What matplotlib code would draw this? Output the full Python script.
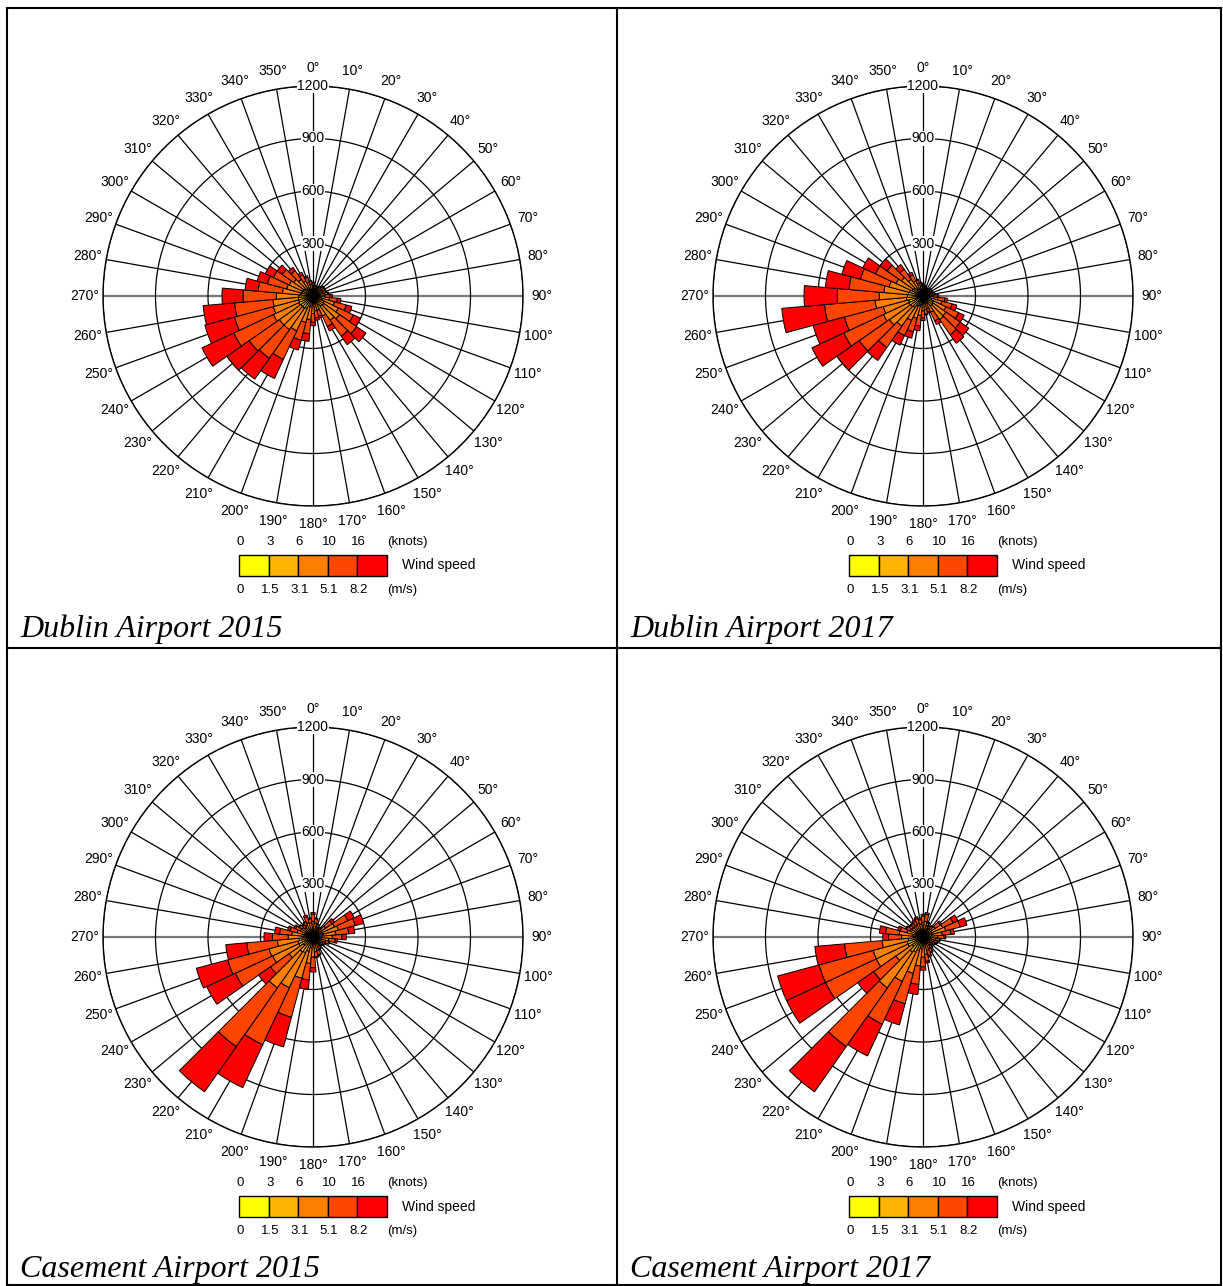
import numpy as np
import matplotlib.pyplot as plt
from matplotlib.patches import Rectangle

# Wind direction sectors (degrees) and speed classes
directions = list(range(0, 360, 10))
speed_colors = ['#ffff00', '#ffb400', '#ff8000', '#ff4600', '#ff0000']
knots_labels = ['0', '3', '6', '10', '16']
ms_labels = ['0', '1.5', '3.1', '5.1', '8.2']
ring_values = [300, 600, 900, 1200]

# Dublin Airport 2015 (hours per sector, per speed class)
dub15_c1 = [8, 6, 6, 6, 7, 8, 8, 8, 9, 8, 10, 12, 15, 15, 15, 12, 10, 10,
            10, 12, 12, 15, 15, 15, 15, 15, 15, 15, 15, 15, 15, 15, 12, 10, 10, 9]
dub15_c2 = [24, 18, 18, 18, 21, 24, 24, 24, 27, 25, 35, 45, 55, 60, 55, 45, 30, 30,
            35, 45, 50, 65, 70, 70, 75, 70, 70, 65, 55, 50, 50, 45, 40, 35, 30, 27]
dub15_c3 = [28, 21, 21, 21, 25, 28, 28, 28, 31, 35, 50, 70, 90, 110, 100, 70, 45, 45,
            55, 80, 95, 140, 150, 150, 160, 150, 145, 130, 105, 90, 85, 75, 65, 50, 40, 31]
dub15_c4 = [16, 12, 12, 12, 14, 16, 16, 16, 18, 30, 45, 70, 95, 120, 110, 65, 35, 40,
            50, 80, 105, 180, 200, 210, 250, 230, 220, 190, 140, 115, 100, 80, 60, 40, 30, 18]
dub15_c5 = [4, 3, 3, 3, 3, 4, 4, 4, 5, 12, 20, 33, 45, 65, 60, 28, 10, 15,
            20, 43, 58, 120, 145, 155, 200, 175, 180, 120, 75, 60, 50, 35, 23, 15, 10, 5]

# Dublin Airport 2017
dub17_c1 = [7, 6, 5, 5, 5, 6, 6, 6, 7, 8, 10, 12, 15, 15, 15, 12, 10, 10,
            10, 12, 12, 15, 15, 15, 15, 15, 15, 15, 15, 15, 15, 15, 12, 10, 10, 8]
dub17_c2 = [21, 18, 15, 15, 15, 18, 18, 18, 21, 22, 30, 40, 50, 55, 55, 35, 30, 30,
            30, 40, 45, 50, 65, 70, 75, 70, 80, 75, 70, 65, 55, 50, 40, 35, 30, 24]
dub17_c3 = [25, 21, 18, 18, 18, 21, 21, 21, 25, 30, 45, 60, 80, 90, 95, 55, 35, 40,
            45, 60, 75, 90, 130, 150, 160, 150, 180, 160, 140, 120, 100, 85, 65, 50, 35, 28]
dub17_c4 = [14, 12, 10, 10, 10, 12, 12, 12, 14, 22, 40, 60, 80, 100, 105, 55, 20, 25,
            40, 60, 80, 95, 150, 210, 250, 230, 290, 240, 200, 170, 130, 100, 70, 40, 20, 16]
dub17_c5 = [3, 3, 2, 2, 2, 3, 3, 3, 3, 8, 15, 28, 35, 60, 60, 23, 5, 5,
            15, 28, 38, 60, 90, 155, 200, 185, 245, 190, 135, 110, 80, 50, 33, 15, 5, 4]

# Casement Airport 2015
cas15_c1 = [10, 10, 8, 6, 7, 8, 10, 10, 10, 10, 10, 10, 8, 7, 6, 8, 10, 10,
            10, 12, 15, 15, 15, 12, 15, 15, 15, 12, 12, 10, 10, 10, 9, 10, 10, 10]
cas15_c2 = [30, 30, 24, 18, 21, 30, 45, 50, 45, 40, 35, 30, 24, 21, 18, 24, 30, 30,
            40, 50, 70, 85, 90, 55, 75, 75, 65, 45, 40, 35, 30, 30, 27, 30, 30, 30]
cas15_c3 = [50, 40, 28, 21, 25, 50, 80, 90, 75, 60, 45, 35, 28, 25, 21, 28, 40, 45,
            65, 90, 160, 220, 250, 100, 165, 170, 125, 85, 70, 50, 40, 35, 31, 35, 45, 40]
cas15_c4 = [40, 25, 16, 12, 14, 45, 85, 100, 75, 55, 38, 20, 16, 14, 12, 16, 25, 30,
            60, 95, 230, 360, 410, 130, 235, 245, 175, 90, 70, 40, 30, 20, 18, 20, 35, 25]
cas15_c5 = [10, 5, 4, 3, 3, 17, 40, 50, 35, 25, 12, 5, 4, 3, 3, 4, 5, 5,
            25, 53, 175, 270, 315, 83, 180, 185, 120, 48, 28, 15, 10, 5, 5, 5, 10, 5]

# Casement Airport 2017
cas17_c1 = [10, 10, 9, 7, 8, 10, 10, 10, 10, 10, 10, 9, 8, 7, 8, 10, 10, 10,
            10, 12, 15, 15, 15, 15, 15, 15, 15, 12, 12, 10, 10, 10, 10, 10, 10, 10]
cas17_c2 = [30, 30, 27, 21, 24, 30, 45, 45, 40, 30, 30, 27, 24, 21, 24, 30, 30, 35,
            40, 55, 65, 80, 90, 60, 80, 80, 70, 40, 45, 35, 30, 30, 30, 30, 30, 30]
cas17_c3 = [45, 50, 31, 25, 28, 45, 70, 80, 60, 45, 35, 31, 28, 25, 28, 35, 40, 55,
            65, 100, 135, 185, 250, 115, 200, 200, 150, 70, 80, 50, 40, 35, 35, 35, 40, 35]
cas17_c4 = [35, 40, 18, 14, 16, 35, 65, 85, 50, 35, 20, 18, 16, 14, 16, 20, 30, 40,
            55, 105, 180, 270, 410, 155, 320, 320, 215, 75, 78, 40, 25, 20, 20, 25, 30, 25]
cas17_c5 = [10, 10, 5, 3, 4, 10, 30, 40, 20, 10, 5, 5, 4, 3, 4, 5, 10, 10,
            20, 58, 125, 200, 315, 110, 245, 245, 170, 33, 35, 15, 5, 5, 5, 10, 10, 10]

W, H = 1223, 1286
fig = plt.figure(figsize=(W / 100, H / 100), dpi=100)

# overlay in pixel coordinates for table borders, legends and captions
over = fig.add_axes([0, 0, 1, 1])
over.set_xlim(0, W)
over.set_ylim(H, 0)
over.axis('off')

for xs, ys in [([7, 1221], [8, 8]), ([7, 1221], [1285, 1285]), ([7, 7], [8, 1285]),
               ([1221, 1221], [8, 1285]), ([617, 617], [8, 1285]), ([7, 1221], [648, 648])]:
    over.plot(xs, ys, color='black', lw=1.5)

sans = 'Liberation Sans'


def crear_rosa(cx, cy, clases, titulo):
    R = 210
    ax = fig.add_axes([(cx - R) / W, 1 - (cy + R) / H, 2 * R / W, 2 * R / H],
                      projection='polar')
    ax.set_theta_zero_location('N')
    ax.set_theta_direction(-1)
    theta = np.deg2rad(directions)
    base = np.zeros(len(directions))
    for vals, col in zip(clases, speed_colors):
        ax.bar(theta, vals, width=np.deg2rad(10), bottom=base, color=col,
               edgecolor='black', linewidth=0.7, zorder=3)
        base = base + np.array(vals)
    ax.set_ylim(0, 1200)
    ax.set_yticks(ring_values)
    ax.set_yticklabels([])
    ax.set_xticks(theta)
    ax.set_xticklabels([])
    ax.set_axisbelow(True)
    ax.grid(color='black', linewidth=0.9)
    gl = ax.xaxis.get_gridlines()
    for i in (9, 27):
        gl[i].set_color('#777777')
        gl[i].set_linewidth(1.6)
    ax.spines['polar'].set_linewidth(1.0)
    ax.patch.set_alpha(0)
    for d in directions:
        ax.text(np.deg2rad(d), 1305, f'{d}\u00b0', ha='center', va='center',
                fontsize=10, family=sans, clip_on=False)
    for v in ring_values:
        ax.text(0, v, str(v), ha='center', va='center', fontsize=10, family=sans,
                zorder=5, bbox=dict(fc='white', ec='none', pad=0.3))

    # legend
    x0, y0, bw, bh = cx - 74, cy + 259, 29.5, 21
    for i, col in enumerate(speed_colors):
        over.add_patch(Rectangle((x0 + i * bw, y0), bw, bh, fc=col, ec='black', lw=1))
        over.text(x0 + 1.5 + i * bw, y0 - 13, knots_labels[i], ha='center', va='center',
                  fontsize=9.5, family=sans)
        over.text(x0 + 1.5 + i * bw, y0 + bh + 14, ms_labels[i], ha='center', va='center',
                  fontsize=9.5, family=sans)
    over.text(x0 + 5 * bw + 1, y0 - 13, '(knots)', ha='left', va='center',
              fontsize=9.5, family=sans)
    over.text(x0 + 5 * bw + 15, y0 + bh / 2, 'Wind speed', ha='left', va='center',
              fontsize=10, family=sans)
    over.text(x0 + 5 * bw + 1, y0 + bh + 14, '(m/s)', ha='left', va='center',
              fontsize=9.5, family=sans)
    over.text(cx - 293, cy + 333, titulo, ha='left', va='center', fontsize=23,
              family='Liberation Serif', style='italic')


crear_rosa(313, 296, [dub15_c1, dub15_c2, dub15_c3, dub15_c4, dub15_c5], 'Dublin Airport 2015')
crear_rosa(923, 296, [dub17_c1, dub17_c2, dub17_c3, dub17_c4, dub17_c5], 'Dublin Airport 2017')
crear_rosa(313, 937, [cas15_c1, cas15_c2, cas15_c3, cas15_c4, cas15_c5], 'Casement Airport 2015')
crear_rosa(923, 937, [cas17_c1, cas17_c2, cas17_c3, cas17_c4, cas17_c5], 'Casement Airport 2017')

fig.savefig('out.png', dpi=100)
